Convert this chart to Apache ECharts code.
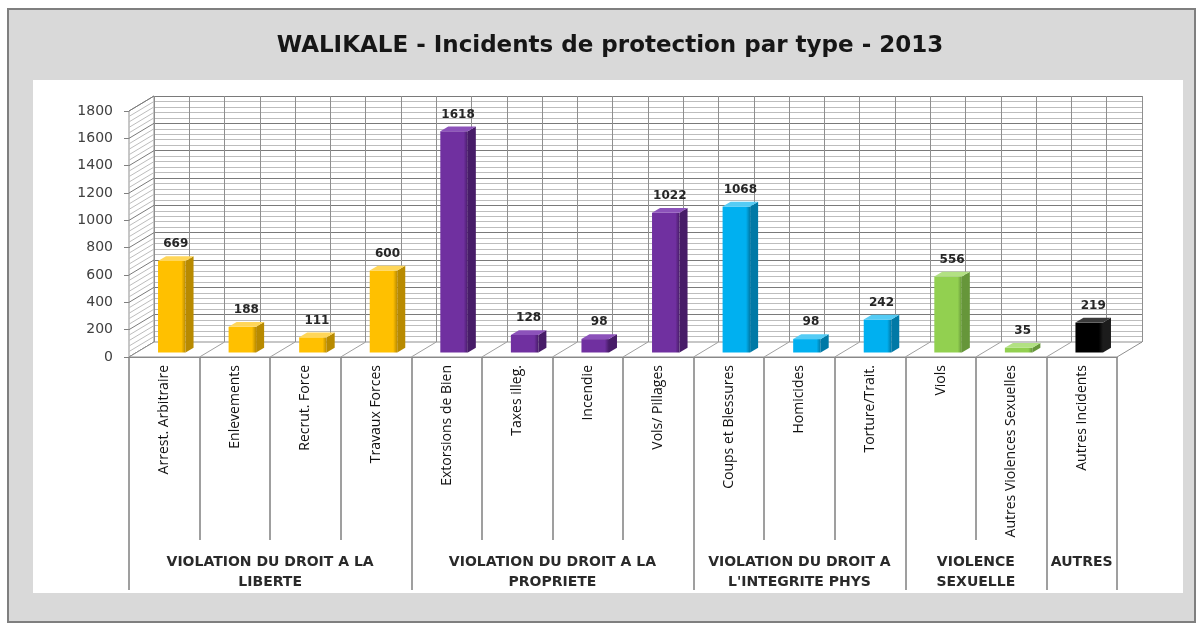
<!DOCTYPE html>
<html>
<head>
<meta charset="utf-8">
<script src="https://cdn.jsdelivr.net/npm/echarts@6/dist/echarts.min.js"></script>
<style>
  html, body { margin: 0; padding: 0; background: #ffffff; }
  #chart { width: 1199px; height: 626px; }
</style>
</head>
<body>
<div id="chart"></div>
<script>
// Incident categories, in display order
const categories = [
  'Arrest. Arbitraire', 'Enlevements', 'Recrut. Force', 'Travaux Forces',
  'Extorsions de Bien', 'Taxes illeg.', 'Incendie', 'Vols/ Pillages',
  'Coups et Blessures', 'Homicides', 'Torture/Trait.',
  'Viols', 'Autres Violences Sexuelles',
  'Autres Incidents'
];
// Number of incidents per category
const values = [669, 188, 111, 600, 1618, 128, 98, 1022, 1068, 98, 242, 556, 35, 219];
// Group index of each category
const groupOf = [0, 0, 0, 0, 1, 1, 1, 1, 2, 2, 2, 3, 3, 4];
// Group headings and their category boundaries
const groupNames = [
  'VIOLATION DU DROIT A LA\nLIBERTE',
  'VIOLATION DU DROIT A LA\nPROPRIETE',
  "VIOLATION DU DROIT A\nL'INTEGRITE PHYS",
  'VIOLENCE\nSEXUELLE',
  'AUTRES'
];
const groupBounds = [0, 4, 8, 11, 13, 14];
// Value axis range
const yMin = 0, yMax = 1800, yStep = 200, yMinorSplit = 5;

// Face colours per group: front, side, top
const groupColors = [
  ['#FFC000', '#B88A00', '#FFD659'],
  ['#7030A0', '#471C68', '#8C52BA'],
  ['#00B0F0', '#0079A6', '#55CCF5'],
  ['#92D050', '#66963A', '#B2E183'],
  ['#000000', '#1c1c1c', '#3a3a3a']
];

// 3D depth of the floor (front edge to back wall), pixels
const DX = 25, DY = 15;
// Depth slice occupied by each bar
const F0 = 0.3, F1 = 0.62;

const FONT = '"DejaVu Sans", sans-serif';
const AXIS_GRAY = '#808080';

const groupCenters = [];
const groupLabelMap = {};
for (let g = 0; g < groupNames.length; g++) {
  const c = (groupBounds[g] + groupBounds[g + 1]) / 2;
  groupCenters.push(c);
  groupLabelMap[c] = groupNames[g];
}

const barData = values.map((v, i) => [i, v, groupOf[i]]);

const chart = echarts.init(document.getElementById('chart'), null, { renderer: 'canvas' });

const option = {
  animation: false,
  backgroundColor: '#ffffff',
  title: {
    text: 'WALIKALE - Incidents de protection par type - 2013',
    left: 605,
    textAlign: 'center',
    top: 30,
    textStyle: { fontFamily: FONT, fontSize: 23, fontWeight: 'bold', color: '#161616' }
  },
  graphic: [
    {
      type: 'rect', z: -10, silent: true,
      shape: { x: 8, y: 9, width: 1187, height: 613 },
      style: { fill: '#d9d9d9', stroke: '#7f7f7f', lineWidth: 2 }
    },
    {
      type: 'rect', z: -9, silent: true,
      shape: { x: 33, y: 80, width: 1150, height: 513 },
      style: { fill: '#ffffff' }
    }
  ],
  grid: [
    // front plane (floor edge, axes, bars)
    { left: 129, top: 111, width: 988, height: 246 },
    // back wall
    { left: 129 + DX, top: 111 - DY, width: 988, height: 246 }
  ],
  xAxis: [
    {
      type: 'category', gridIndex: 0, data: categories,
      axisLine: { show: true, lineStyle: { color: AXIS_GRAY, width: 1 } },
      axisTick: { show: true, interval: 0, length: 183, lineStyle: { color: AXIS_GRAY, width: 1.5 } },
      axisLabel: {
        interval: 0, rotate: 90, margin: 8,
        fontFamily: '"Open Sans", sans-serif', fontSize: 14, color: '#111111'
      },
      splitLine: { show: false }
    },
    {
      type: 'value', gridIndex: 0, min: 0, max: 14, position: 'bottom',
      axisLine: { show: false },
      axisTick: { show: true, customValues: groupBounds, length: 233, lineStyle: { color: AXIS_GRAY, width: 1.5 } },
      axisLabel: {
        customValues: groupCenters, margin: 195,
        formatter: v => groupLabelMap[v] || '',
        fontFamily: FONT, fontSize: 14, fontWeight: 'bold',
        color: '#2a2a2a', lineHeight: 20, align: 'center'
      },
      splitLine: { show: false }
    },
    {
      type: 'value', gridIndex: 1, min: 0, max: 14, interval: 0.5,
      axisLine: { show: false }, axisTick: { show: false }, axisLabel: { show: false },
      splitLine: { show: true, lineStyle: { color: '#8f8f8f', width: 1 } }
    }
  ],
  yAxis: [
    {
      type: 'value', gridIndex: 0, min: yMin, max: yMax, interval: yStep,
      axisLine: { show: true, lineStyle: { color: AXIS_GRAY } },
      axisTick: { show: true, length: 5, lineStyle: { color: AXIS_GRAY } },
      axisLabel: { margin: 16, fontFamily: FONT, fontSize: 14, color: '#404040', formatter: v => String(v) },
      splitLine: { show: false }
    },
    {
      type: 'value', gridIndex: 1, min: yMin, max: yMax, interval: yStep,
      axisLine: { show: false }, axisTick: { show: false }, axisLabel: { show: false },
      minorTick: { show: false, splitNumber: yMinorSplit },
      splitLine: { show: true, lineStyle: { color: '#7a7a7a', width: 1 } },
      minorSplitLine: { show: true, lineStyle: { color: '#bdbdbd', width: 1 } }
    }
  ],
  series: [
    {
      // left side wall and floor of the 3D box
      type: 'custom',
      xAxisIndex: 0, yAxisIndex: 0,
      silent: true, z: 1,
      data: [[0, 0]],
      renderItem: function (params, api) {
        const base = api.coord([0, yMin]);
        const w = api.size([1, 0])[0];
        const xl = base[0] - w / 2;
        const n = categories.length;
        const xr = xl + w * n;
        const y0 = base[1];
        const yTop = api.coord([0, yMax])[1];
        const children = [];
        children.push({
          type: 'polygon',
          shape: { points: [[xl, y0], [xl + DX, y0 - DY], [xl + DX, yTop - DY], [xl, yTop]] },
          style: { fill: '#ffffff', stroke: '#8f8f8f', lineWidth: 1 }
        });
        const minorStep = yStep / yMinorSplit;
        for (let v = yMin; v <= yMax + 1e-6; v += minorStep) {
          const y = api.coord([0, v])[1];
          const major = Math.abs(v / yStep - Math.round(v / yStep)) < 1e-6;
          children.push({
            type: 'line',
            shape: { x1: xl, y1: y, x2: xl + DX, y2: y - DY },
            style: { stroke: major ? '#7a7a7a' : '#bdbdbd', lineWidth: 1 }
          });
        }
        children.push({
          type: 'polygon',
          shape: { points: [[xl, y0], [xr, y0], [xr + DX, y0 - DY], [xl + DX, y0 - DY]] },
          style: { fill: '#ffffff', stroke: '#8f8f8f', lineWidth: 1 }
        });
        for (let i = 1; i < n; i++) {
          const x = xl + i * w;
          children.push({
            type: 'line',
            shape: { x1: x, y1: y0, x2: x + DX, y2: y0 - DY },
            style: { stroke: '#a0a0a0', lineWidth: 1 }
          });
        }
        return { type: 'group', children: children };
      }
    },
    {
      // 3D bars: front, side and top faces plus the value label
      type: 'custom',
      xAxisIndex: 0, yAxisIndex: 0,
      z: 3,
      encode: { x: 0, y: 1 },
      data: barData,
      renderItem: function (params, api) {
        const idx = api.value(0);
        const val = api.value(1);
        const cols = groupColors[api.value(2)];
        const top = api.coord([idx, val]);
        const bot = api.coord([idx, yMin]);
        const bw = api.size([1, 0])[0] * 0.39;
        const ox = F0 * DX, oy = F0 * DY;
        const ddx = (F1 - F0) * DX, ddy = (F1 - F0) * DY;
        const x0 = top[0] - bw / 2 + ox;
        const x1 = x0 + bw;
        const yb = bot[1] - oy;
        const yt = top[1] - oy;
        return {
          type: 'group',
          children: [
            {
              type: 'polygon',
              shape: { points: [[x1, yb], [x1, yt], [x1 + ddx, yt - ddy], [x1 + ddx, yb - ddy]] },
              style: { fill: cols[1] }
            },
            {
              type: 'rect',
              shape: { x: x0, y: yt, width: bw, height: yb - yt },
              style: {
                fill: new echarts.graphic.LinearGradient(0, 0, 1, 0, [
                  { offset: 0, color: cols[0] },
                  { offset: 0.85, color: cols[0] },
                  { offset: 1, color: cols[1] }
                ])
              }
            },
            {
              type: 'polygon',
              shape: { points: [[x0, yt], [x1, yt], [x1 + ddx, yt - ddy], [x0 + ddx, yt - ddy]] },
              style: { fill: cols[2] }
            },
            {
              type: 'text',
              style: {
                x: (x0 + x1) / 2 + ddx / 2,
                y: yt - ddy - 6,
                text: String(val),
                align: 'center',
                verticalAlign: 'bottom',
                font: 'bold 12px "DejaVu Sans", sans-serif',
                fill: '#262626'
              }
            }
          ]
        };
      }
    }
  ]
};

chart.setOption(option);
</script>
</body>
</html>
